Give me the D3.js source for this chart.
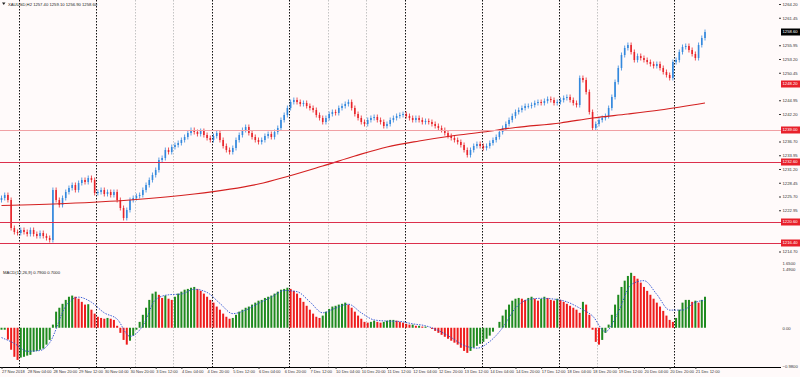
<!DOCTYPE html>
<html lang="en">
<head>
<meta charset="UTF-8">
<title>XAUUSD,H2</title>
<script src="https://d3js.org/d3.v7.min.js"></script>
<style>
  body { margin: 0; background: #fffafa; }
  text { font-family: "Liberation Sans", Arial, sans-serif; }
</style>
</head>
<body>
<div id="root"></div>
<script>
// --- data (H2 bars, 27 Nov - 21 Dec 2018) ---
const symbol = 'XAUUSD,H2'
const firstOpen = 1225.0
const closes = [
  1225.4,1226.0,1225.0,1219.4,1218.6,1218.4,1219.0,1218.6,1218.2,1219.0,
  1218.2,1217.8,1218.4,1217.8,1217.4,1217.0,1227.0,1225.0,1224.0,1225.4,
  1226.6,1227.4,1228.0,1227.0,1228.4,1229.0,1228.6,1229.4,1229.0,1226.4,
  1226.6,1227.0,1226.2,1226.6,1226.0,1226.6,1225.0,1223.4,1221.4,1223.0,
  1225.0,1225.4,1225.8,1226.0,1227.0,1228.0,1229.0,1230.0,1231.0,1233.0,
  1233.4,1235.0,1234.6,1235.6,1236.0,1236.4,1237.0,1237.6,1238.4,1239.0,
  1238.6,1238.2,1238.8,1238.0,1237.4,1237.0,1237.8,1238.4,1237.0,1235.8,
  1235.0,1234.6,1235.4,1237.0,1238.0,1239.0,1239.6,1238.4,1237.6,1237.0,
  1236.6,1237.0,1237.8,1238.2,1237.6,1238.6,1239.4,1241.0,1242.0,1243.4,
  1244.6,1245.0,1244.6,1244.2,1244.4,1243.8,1243.4,1243.0,1242.0,1241.4,
  1240.6,1241.4,1242.2,1242.6,1242.4,1243.4,1243.8,1244.2,1244.6,1243.4,
  1242.2,1241.4,1240.6,1240.2,1241.0,1241.4,1241.6,1241.0,1240.6,1239.8,
  1240.2,1241.0,1241.4,1241.8,1242.0,1242.2,1241.8,1241.4,1241.0,1241.4,
  1241.0,1240.6,1240.8,1240.6,1240.2,1239.8,1239.4,1239.0,1238.4,1237.8,
  1237.4,1237.0,1236.6,1236.0,1235.0,1234.0,1235.0,1235.8,1236.2,1235.8,
  1235.4,1235.8,1236.4,1237.0,1237.6,1238.6,1239.4,1240.2,1241.0,1241.8,
  1242.6,1243.0,1243.4,1243.8,1243.8,1244.0,1244.4,1244.6,1244.4,1244.8,
  1245.2,1245.0,1244.4,1244.6,1245.0,1245.4,1245.6,1245.0,1244.4,1244.0,
  1249.4,1249.0,1246.6,1242.6,1239.4,1240.2,1241.0,1241.4,1241.8,1243.4,
  1245.6,1248.6,1251.4,1254.0,1255.4,1256.0,1254.6,1253.0,1253.8,1253.4,
  1253.0,1252.6,1252.2,1251.8,1252.2,1251.4,1250.6,1250.0,1249.4,1252.6,
  1253.0,1254.6,1255.6,1255.8,1255.0,1254.2,1253.4,1256.0,1257.4,1258.6
]
const wick = 0.5

// moving average (sampled bars)
const maBars   = [0, 20, 40, 60, 80, 100, 110, 120, 130, 140, 150, 160, 174, 184, 195, 205, 219]
const maValues = [1223.9,1224.3,1225.0,1226.2,1228.2,1231.8,1233.8,1235.6,1236.8,1237.8,1238.6,1239.5,1240.4,1241.4,1242.2,1243.0,1244.4]

// MACD histogram, one value per bar
const histValues = [
  -0.05,-0.05,-0.30,-0.56,-0.74,-0.82,-0.76,-0.74,-0.71,-0.69,
  -0.61,-0.59,-0.56,-0.53,-0.43,-0.31,0.08,0.41,0.51,0.61,
  0.71,0.79,0.82,0.79,0.74,0.66,0.59,0.60,0.46,0.36,
  0.28,0.25,0.23,0.25,0.23,0.20,0.05,-0.13,-0.31,-0.43,
  -0.33,-0.20,-0.05,0.15,0.33,0.51,0.71,0.87,0.92,0.84,
  0.76,0.82,0.74,0.71,0.79,0.87,0.92,0.97,0.99,1.02,
  1.04,0.99,0.94,0.87,0.79,0.71,0.64,0.54,0.46,0.36,
  0.28,0.23,0.25,0.33,0.41,0.46,0.51,0.54,0.59,0.64,
  0.69,0.71,0.76,0.79,0.82,0.87,0.92,0.97,0.99,1.02,
  0.99,0.94,0.87,0.76,0.66,0.56,0.46,0.36,0.28,0.25,
  0.31,0.41,0.48,0.54,0.56,0.59,0.61,0.64,0.59,0.51,
  0.41,0.31,0.23,0.15,0.13,0.15,0.18,0.15,0.13,0.15,
  0.18,0.20,0.20,0.18,0.15,0.13,0.10,0.08,0.08,0.05,
  0.05,0.03,0.03,0.00,-0.03,-0.08,-0.13,-0.18,-0.23,-0.28,
  -0.33,-0.38,-0.43,-0.51,-0.59,-0.64,-0.59,-0.51,-0.46,-0.41,
  -0.36,-0.28,-0.20,-0.10,0.00,0.15,0.31,0.46,0.59,0.69,
  0.74,0.76,0.74,0.71,0.76,0.79,0.74,0.69,0.74,0.79,
  0.76,0.71,0.69,0.74,0.71,0.66,0.61,0.56,0.51,0.46,
  0.38,0.66,0.59,0.33,-0.05,-0.36,-0.43,-0.31,-0.13,0.08,
  0.33,0.59,0.84,1.04,1.20,1.32,1.40,1.32,1.25,1.15,
  1.04,0.94,0.84,0.74,0.64,0.54,0.43,0.31,0.20,0.15,
  0.25,0.46,0.64,0.71,0.71,0.66,0.69,0.64,0.71,0.79
]
// signal line (sampled bars)
const signalBars   = [0, 4, 8, 12, 15, 20, 24, 28, 32, 36, 40, 44, 48, 52, 56, 60, 64, 68, 72, 76, 80, 84, 88, 92, 96, 100, 104, 108, 112, 116, 120, 124, 128, 132, 136, 140, 144, 148, 152, 156, 160, 164, 168, 172, 176, 180, 184, 188, 192, 196, 200, 204, 208, 212, 216, 219]
const signalValues = [-0.25,-0.40,-0.60,-0.58,-0.38,0.55,0.78,0.65,0.38,0.22,-0.22,0.05,0.72,0.84,0.86,0.98,0.90,0.62,0.36,0.45,0.62,0.78,0.95,0.92,0.66,0.38,0.50,0.60,0.38,0.20,0.17,0.16,0.10,0.05,-0.07,-0.25,-0.45,-0.52,-0.35,0.00,0.50,0.72,0.75,0.73,0.66,0.50,0.30,-0.10,0.40,1.10,1.20,0.85,0.45,0.45,0.65,0.70]

const priceTicks = [1264.20,1261.45,1258.70,1255.95,1253.20,1250.45,1247.70,1244.95,1242.20,1239.45,1236.70,1233.95,1231.20,1228.45,1225.70,1222.95,1220.20,1217.45,1214.70]
const levelLines = [1239.00, 1232.60, 1220.60, 1216.40]
const extraBoxes = [1248.20]
const macdTicks = [1.65, 1.49, 0, -0.98]

const timeLabels = ['27 Nov 2018','28 Nov 04:00','28 Nov 20:00','29 Nov 12:00','30 Nov 04:00','30 Nov 20:00',
  '3 Dec 12:00','4 Dec 04:00','4 Dec 20:00','5 Dec 12:00','6 Dec 04:00','6 Dec 20:00','7 Dec 12:00',
  '10 Dec 04:00','10 Dec 20:00','11 Dec 12:00','12 Dec 04:00','12 Dec 20:00','13 Dec 12:00','14 Dec 04:00',
  '14 Dec 20:00','17 Dec 12:00','18 Dec 04:00','18 Dec 20:00','19 Dec 12:00','20 Dec 04:00','20 Dec 20:00','21 Dec 12:00']
const labelStep = 8
const daySeps   = [6, 30, 66, 90, 126, 150, 174, 210]
const lightSeps = [42, 54, 102, 114, 186]

// --- drawing ---
const W = 800, H = 377
const svg = d3.select('#root').append('svg')
  .attr('width', W).attr('height', H)
  .style('display', 'block')

svg.append('rect').attr('width', W).attr('height', H).attr('fill', '#fffafa')

const x = d3.scaleLinear().domain([0, closes.length - 1]).range([1.5, 705])
const y = d3.scaleLinear().domain([1212.6, 1265]).range([262, 0])
const ym = d3.scaleLinear().domain([-1.0, 1.65]).range([367, 263])
const half = (x(1) - x(0)) / 2
const fs = 4.2

// period separators
const sepG = svg.append('g')
sepG.selectAll('line.light').data(lightSeps).enter().append('line')
  .attr('x1', d => Math.round(x(d) - half) + 0.5).attr('x2', d => Math.round(x(d) - half) + 0.5)
  .attr('y1', 0).attr('y2', 367)
  .attr('stroke', '#c4c4c4').attr('stroke-dasharray', '1.5,1.5')
sepG.selectAll('line.dark').data(daySeps).enter().append('line')
  .attr('x1', d => Math.round(x(d) - half) + 0.5).attr('x2', d => Math.round(x(d) - half) + 0.5)
  .attr('y1', 0).attr('y2', 367)
  .attr('stroke', '#111').attr('stroke-dasharray', '1.5,1.5')

// candles
const candles = closes.map((c, i) => {
  const o = i === 0 ? firstOpen : closes[i - 1]
  return { i, o, c, h: Math.max(o, c) + wick, l: Math.min(o, c) - wick }
})
const cg = svg.append('g')
cg.selectAll('line').data(candles).enter().append('line')
  .attr('x1', d => x(d.i)).attr('x2', d => x(d.i))
  .attr('y1', d => y(d.h)).attr('y2', d => y(d.l))
  .attr('stroke', d => d.c >= d.o ? '#3388dd' : '#e8242a').attr('stroke-width', 0.8)
cg.selectAll('rect').data(candles).enter().append('rect')
  .attr('x', d => x(d.i) - 0.8).attr('width', 1.6)
  .attr('y', d => y(Math.max(d.o, d.c)))
  .attr('height', d => Math.max(0.8, Math.abs(y(d.o) - y(d.c))))
  .attr('fill', d => d.c >= d.o ? '#3388dd' : '#e8242a')

// moving average
const maLine = d3.line().x(d => x(d[0])).y(d => y(d[1])).curve(d3.curveMonotoneX)
svg.append('path').datum(maBars.map((b, k) => [b, maValues[k]]))
  .attr('d', maLine).attr('fill', 'none').attr('stroke', '#d42020').attr('stroke-width', 1.2)

// horizontal levels
svg.selectAll('line.lvl').data(levelLines).enter().append('line')
  .attr('x1', 0).attr('x2', 781)
  .attr('y1', d => Math.round(y(d)) + 0.5).attr('y2', d => Math.round(y(d)) + 0.5)
  .attr('stroke', (d, i) => i === 0 ? '#f0a0a4' : '#dc2f4c').attr('stroke-width', 1)

// price axis
const boxes = [{ v: closes[closes.length - 1], fill: '#000' }]
  .concat(extraBoxes.map(v => ({ v, fill: '#e8202a' })))
  .concat(levelLines.map(v => ({ v, fill: '#e8202a' })))
const freeTicks = priceTicks.filter(t => boxes.every(b => Math.abs(y(t) - y(b.v)) > 6))
const pAxis = svg.append('g').attr('transform', 'translate(779,0)')
  .call(d3.axisRight(y).tickValues(freeTicks).tickSize(2).tickPadding(1.5).tickFormat(d3.format('.2f')))
pAxis.select('.domain').remove()
pAxis.selectAll('text').attr('font-size', fs).attr('fill', '#333')
pAxis.selectAll('line').attr('stroke', '#333')

const bg = svg.append('g').selectAll('g').data(boxes).enter().append('g')
  .attr('transform', d => `translate(781,${y(d.v)})`)
bg.append('rect').attr('x', 0).attr('y', -3.5).attr('width', 19).attr('height', 7).attr('fill', d => d.fill)
bg.append('text').attr('x', 1.5).attr('dy', '0.35em').attr('font-size', fs).attr('fill', '#fff')
  .text(d => d.v.toFixed(2))

// MACD histogram
const hist = histValues.map((v, i) => ({ i, v, up: i === 0 || v >= histValues[i - 1] }))
svg.append('g').selectAll('rect').data(hist).enter().append('rect')
  .attr('x', d => x(d.i) - 1).attr('width', 2)
  .attr('y', d => Math.min(ym(d.v), ym(0)))
  .attr('height', d => Math.abs(ym(d.v) - ym(0)))
  .attr('fill', d => d.up ? '#1f8a1f' : '#ee1c1c')

const sigLine = d3.line().x(d => x(d[0])).y(d => ym(d[1])).curve(d3.curveMonotoneX)
svg.append('path').datum(signalBars.map((b, k) => [b, signalValues[k]]))
  .attr('d', sigLine).attr('fill', 'none').attr('stroke', '#2a4fd0')
  .attr('stroke-width', 0.9).attr('stroke-dasharray', '1.5,1.2')

const mAxis = svg.append('g').attr('transform', 'translate(779,0)')
  .call(d3.axisRight(ym).tickValues(macdTicks).tickSize(0).tickPadding(3.5)
    .tickFormat(d => d === 0 ? '0.00' : d3.format('.4f')(d)))
mAxis.select('.domain').remove()
mAxis.selectAll('text').attr('font-size', fs).attr('fill', '#333')

// time axis
const tickBars = timeLabels.map((t, k) => k * labelStep)
const tAxis = svg.append('g').attr('transform', 'translate(0,367)')
  .call(d3.axisBottom(x).tickValues(tickBars).tickSize(2).tickPadding(1)
    .tickFormat((d, k) => timeLabels[k]))
tAxis.select('.domain').attr('d', 'M0,0.5H781').attr('stroke', '#000')
tAxis.selectAll('text').attr('font-size', 4).attr('fill', '#333').attr('text-anchor', 'start')
tAxis.selectAll('line').attr('stroke', '#333')

// captions
const last = candles[candles.length - 1]
svg.append('path').attr('d', 'M2,2.5 L5.5,2.5 L3.75,5 Z').attr('fill', '#222')
svg.append('text').attr('x', 8).attr('y', 5.5).attr('font-size', fs).attr('fill', '#222')
  .text(`${symbol}  ${last.o.toFixed(2)} ${last.h.toFixed(2)} ${last.l.toFixed(2)} ${last.c.toFixed(2)}`)
svg.append('text').attr('x', 3).attr('y', 273.5).attr('font-size', fs).attr('fill', '#222')
  .text(`MACD(12,26,9) ${histValues[histValues.length - 1].toFixed(4)} ${signalValues[signalValues.length - 1].toFixed(4)}`)
</script>
</body>
</html>
